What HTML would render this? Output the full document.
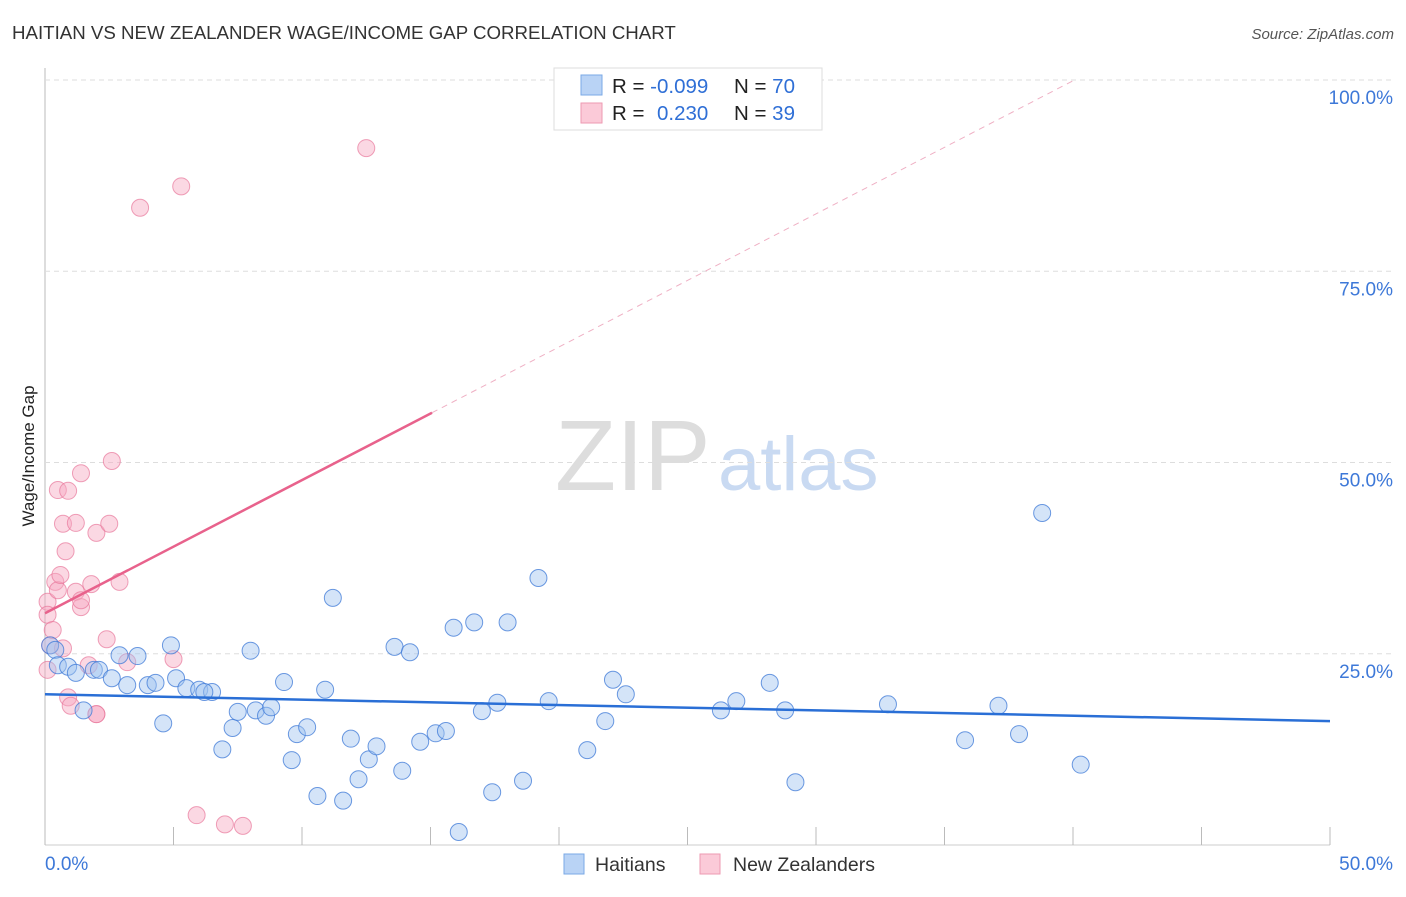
<!DOCTYPE html>
<html><head><meta charset="utf-8"><style>
body{margin:0;background:#fff;font-family:"Liberation Sans",sans-serif;}
svg text{font-family:"Liberation Sans",sans-serif;}
</style></head><body>
<svg id="chart" width="1406" height="892" xmlns="http://www.w3.org/2000/svg">
<text x="12" y="39" font-size="18.7" fill="#333">HAITIAN VS NEW ZEALANDER WAGE/INCOME GAP CORRELATION CHART</text>
<text x="1394" y="39" font-size="15" fill="#555" text-anchor="end" font-style="italic">Source: ZipAtlas.com</text>
<text x="0" y="0" transform="translate(34,456) rotate(-90)" font-size="17" fill="#222" text-anchor="middle">Wage/Income Gap</text>
<text x="555" y="490" font-size="100" fill="#ddd" font-family="Liberation Serif">ZIP</text>
<text x="718" y="490" font-size="76" fill="#c9daf2">atlas</text>
<g id="grid"></g><g id="pts"></g><g id="lines"></g>
<g>
<rect x="554" y="68" width="268" height="62" fill="#fff" stroke="#ddd"/>
<rect x="581" y="75" width="21" height="20" fill="#b9d3f5" stroke="#7aa8e6"/>
<rect x="581" y="103" width="21" height="20" fill="#fbcad8" stroke="#ee9ab2"/>
<text x="612" y="93" font-size="20.5" fill="#222">R = <tspan fill="#2f6fd6">-0.099</tspan></text>
<text x="734" y="93" font-size="20.5" fill="#222">N = <tspan fill="#2f6fd6">70</tspan></text>
<text x="612" y="120" font-size="20.5" fill="#222">R = <tspan fill="#2f6fd6" x="657">0.230</tspan></text>
<text x="734" y="120" font-size="20.5" fill="#222">N = <tspan fill="#2f6fd6">39</tspan></text>
</g>
<g>
<rect x="564" y="854" width="20" height="20" fill="#b9d3f5" stroke="#7aa8e6"/>
<text x="595" y="871" font-size="19.5" fill="#333">Haitians</text>
<rect x="700" y="854" width="20" height="20" fill="#fbcad8" stroke="#ee9ab2"/>
<text x="733" y="871" font-size="19.5" fill="#333">New Zealanders</text>
</g>
</svg>
<script>
const xTicks=["0.0%","50.0%"];
const yTicks=[25,50,75,100];
const blueX=[0.2,0.4,0.5,0.9,1.2,1.5,1.9,2.1,2.6,2.9,3.2,3.6,4.0,4.3,4.6,4.9,5.1,5.5,6.0,6.5,6.2,6.9,7.3,7.5,8.0,8.2,8.6,8.8,9.3,9.6,9.8,10.2,10.6,10.9,11.2,11.6,11.9,12.2,12.6,12.9,13.6,13.9,14.2,14.6,15.2,15.6,15.9,16.1,16.7,17.0,17.4,17.6,18.0,18.6,19.2,19.6,21.1,21.8,22.1,22.6,26.3,26.9,28.2,28.8,29.2,32.8,35.8,37.1,37.9,38.8,40.3];
const blueY=[26.1,25.5,23.5,23.3,22.5,17.6,22.9,22.9,21.8,24.8,20.9,24.7,20.9,21.2,15.9,26.1,21.8,20.5,20.3,20.0,20.0,12.5,15.3,17.4,25.4,17.6,16.9,18.0,21.3,11.1,14.5,15.4,6.4,20.3,32.3,5.8,13.9,8.6,11.2,12.9,25.9,9.7,25.2,13.5,14.6,14.9,28.4,1.7,29.1,17.5,6.9,18.6,29.1,8.4,34.9,18.8,12.4,16.2,21.6,19.7,17.6,18.8,21.2,17.6,8.2,18.4,13.7,18.2,14.5,43.4,10.5];
const pinkX=[0.2,0.1,0.1,0.1,0.3,0.4,0.5,0.6,0.5,0.7,0.8,0.9,0.7,0.9,1.0,1.2,1.2,1.4,1.4,1.4,1.7,1.8,2.0,2.0,2.0,2.4,2.5,2.6,2.9,3.2,3.7,5.0,5.3,5.9,7.0,7.7,12.5];
const pinkY=[26.1,22.9,31.8,30.1,28.1,34.4,33.3,35.3,46.4,42.0,38.4,46.3,25.7,19.3,18.2,33.1,42.1,31.1,48.6,32.0,23.5,34.1,17.1,40.8,17.1,26.9,42.0,50.2,34.4,23.9,83.3,24.3,86.1,3.9,2.7,2.5,91.1];
const blueTrend=[19.7,16.2];
const pinkTrend=[30.3,1.74];
const NS="http://www.w3.org/2000/svg";
const X=v=>45+v/50*1285, Y=v=>845-v/100*765;
function mk(tag,attrs,parent){const e=document.createElementNS(NS,tag);for(const k in attrs)e.setAttribute(k,attrs[k]);document.getElementById(parent).appendChild(e);return e;}
let e;
e=mk('line',{x1:45,y1:68,x2:45,y2:845,stroke:'#bbb'},'grid');


e=mk('line',{x1:45,y1:845,x2:1330,y2:845,stroke:'#ccc'},'grid');


for(let i=0;i<=10;i++){e=mk('line',{x1:X(i*5),y1:827,x2:X(i*5),y2:845,stroke:'#bbb'},'grid');

}
yTicks.forEach(t=>{e=mk('line',{x1:45,y1:Y(t),x2:1394,y2:Y(t),stroke:'#ddd','stroke-dasharray':'5,4'},'grid');


e=mk('text',{x:1393,y:Y(t)+24,'font-size':19,fill:'#3d78d8','text-anchor':'end'},'grid');e.textContent=t.toFixed(1)+'%';

});
e=mk('text',{x:45,y:870,'font-size':19,fill:'#3d78d8'},'grid');e.textContent=xTicks[0];


e=mk('text',{x:1393,y:870,'font-size':19,fill:'#3d78d8','text-anchor':'end'},'grid');e.textContent=xTicks[1];


pinkX.forEach((x,i)=>{e=mk('circle',{cx:X(x),cy:Y(pinkY[i]),r:8.5,fill:'rgba(247,168,192,0.45)',stroke:'rgba(232,120,155,0.7)','stroke-width':1},'pts');

});
blueX.forEach((x,i)=>{e=mk('circle',{cx:X(x),cy:Y(blueY[i]),r:8.5,fill:'rgba(160,196,240,0.45)',stroke:'rgba(60,120,215,0.75)','stroke-width':1},'pts');

});
e=mk('line',{x1:X(0),y1:Y(blueTrend[0]),x2:X(50),y2:Y(blueTrend[1]),stroke:'#2a6fd6','stroke-width':2.5},'lines');


const pEnd=15.06, pFar=(100-pinkTrend[0])/pinkTrend[1];
e=mk('line',{x1:X(0),y1:Y(pinkTrend[0]),x2:X(pEnd),y2:Y(pinkTrend[0]+pinkTrend[1]*pEnd),stroke:'#e8628c','stroke-width':2.5},'lines');


e=mk('line',{x1:X(pEnd),y1:Y(pinkTrend[0]+pinkTrend[1]*pEnd),x2:X(pFar),y2:Y(100),stroke:'#efb0c4','stroke-width':1,'stroke-dasharray':'6,5'},'lines');


</script>
</body></html>
